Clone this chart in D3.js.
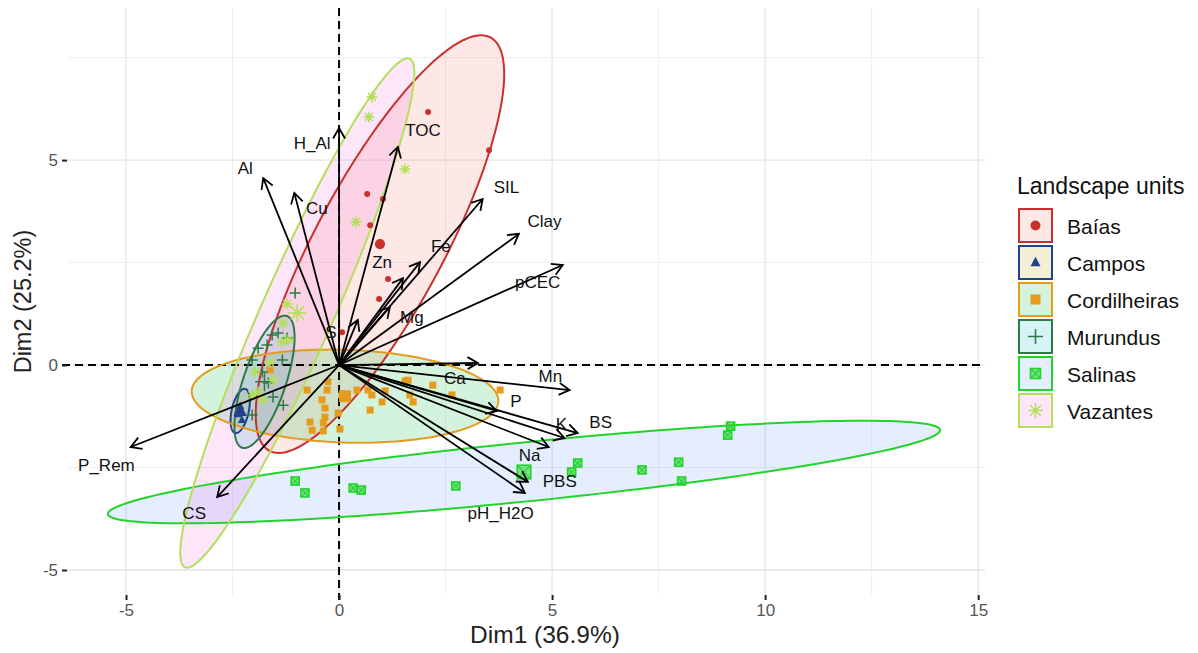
<!DOCTYPE html>
<html><head><meta charset="utf-8">
<script src="https://cdn.jsdelivr.net/npm/d3@7"></script>
<style>body{margin:0;background:#fff}svg{display:block;font-family:"Liberation Sans",Arial,sans-serif}</style>
</head><body><svg id="c" width="1198" height="653"></svg>
<script>
// ---------- DATA ----------
const groups = ["Baías","Campos","Cordilheiras","Murundus","Salinas","Vazantes"];
const strokeColors = ["#c9302c","#233f8f","#e59c1c","#2e7a45","#22d42a","#b3df5a"];
const fillColors = ["#F8766D","#B79F00","#00BA38","#00BFC4","#619CFF","#F564E3"];
const shapes = ["circle","triangle","square","plus","boxtimes","asterisk"];

// individual points per group [x, y]
const ptsBaias = [[2.09,6.17],[3.52,5.24],[0.66,4.17],[1.03,4.05],[0.73,3.41],[1.15,2.10],[0.94,1.61],[0.07,0.80]];
const ptsCampos = [[-2.32,-1.00],[-2.37,-1.20],[-2.28,-1.34]];
const ptsCordilheiras = [[-0.26,-0.41],[-0.75,-0.61],[-0.28,-0.61],[-0.40,-0.85],[0.07,-0.73],[0.42,-0.61],[0.68,-0.61],[0.77,-0.73],[1.08,-0.63],[1.01,-0.90],[0.73,-1.10],[-0.33,-1.05],[-0.33,-1.27],[-0.68,-1.39],[-0.37,-1.41],[-0.02,-1.17],[0.02,-1.56],[1.62,-0.37],[1.55,-0.39],[2.20,-0.49],[1.66,-0.73],[1.74,-0.90],[2.65,-0.73],[3.78,-0.61],[-1.62,-0.12],[-0.63,-1.59],[-0.37,-1.61]];
const ptsMurundus = [[-1.03,1.76],[-1.43,0.78],[-1.57,0.73],[-1.22,0.66],[-1.90,0.41],[-2.04,0.12],[-1.33,0.12],[-1.80,-0.17],[-1.66,-0.44],[-1.55,-0.78],[-1.31,-0.98],[-2.04,-1.22],[-1.69,0.49]];
const ptsSalinas = [[-1.03,-2.83],[-0.80,-3.12],[0.33,-3.00],[0.52,-3.05],[2.74,-2.95],[5.46,-2.61],[5.60,-2.39],[7.11,-2.56],[7.97,-2.37],[8.04,-2.83],[9.12,-1.71],[9.19,-1.49]];
const ptsVazantes = [[0.77,6.54],[0.70,6.05],[1.55,4.78],[0.40,3.49],[-1.22,1.49],[-1.31,1.02],[-1.34,0.56],[-1.20,0.61],[-1.62,0.07],[-1.55,-0.37],[-1.90,-0.66],[-1.78,-0.85],[-2.04,-0.73],[-1.97,-0.17]];
const groupPoints = [ptsBaias, ptsCampos, ptsCordilheiras, ptsMurundus, ptsSalinas, ptsVazantes];

// group means [x, y]
const groupMeans = [[0.96,2.95],[-2.32,-1.12],[0.14,-0.76],[-1.75,-0.41],[4.34,-2.61],[-0.98,1.27]];
// ellipses: semi-major, semi-minor (data units), angle (deg)
const ellMajor = [5.67,0.55,3.6,1.69,9.82,6.74];
const ellMinor = [1.52,0.2,1.13,0.5,0.72,0.85];
const ellAngle = [62.9,78,-2,72,6,67];

// variable arrows
const varNames = ["H_Al","Al","Cu","TOC","SIL","Clay","pCEC","Fe","Zn","Mg","S","Ca","Mn","P","BS","K","Na","PBS","pH_H2O","P_Rem","CS"];
const varX = [0.00,-1.78,-1.05,1.38,3.37,4.22,5.25,1.90,1.50,1.19,0.44,3.26,5.41,3.70,5.60,5.29,4.92,4.43,4.36,-4.89,-2.86];
const varY = [5.78,4.56,4.20,5.32,4.05,3.20,2.44,2.51,2.12,1.41,1.10,0.05,-0.61,-1.12,-1.66,-1.78,-2.00,-2.85,-3.12,-2.00,-3.22];
const labX = [-0.63,-2.20,-0.52,1.97,3.93,4.82,4.66,2.39,1.01,1.71,-0.19,2.72,4.96,4.15,6.14,5.22,4.47,5.18,3.79,-5.46,-3.40];
const labY = [5.41,4.80,3.83,5.71,4.34,3.51,2.02,2.88,2.51,1.15,0.80,-0.32,-0.27,-0.88,-1.39,-1.44,-2.20,-2.85,-3.63,-2.44,-3.61];

const xTicks = [-5,0,5,10,15];
const yTicks = [-5,0,5];
const xMinor = [-2.5,2.5,7.5,12.5];
const yMinor = [-2.5,2.5,7.5];
const xTitle = "Dim1 (36.9%)";
const yTitle = "Dim2 (25.2%)";
const legendTitle = "Landscape units";

// ---------- DRAW ----------
const svg = d3.select("#c");
const P = {l:67, r:985, t:8, b:595};
const x = d3.scaleLinear().domain([-6.385, 15.16]).range([P.l, P.r]);
const y = d3.scaleLinear().domain([-5.61, 8.71]).range([P.b, P.t]);

const g = svg.append("g");
// grid
xMinor.forEach(v=>g.append("line").attr("x1",x(v)).attr("x2",x(v)).attr("y1",P.t).attr("y2",P.b).attr("stroke","#efefef").attr("stroke-width",1));
yMinor.forEach(v=>g.append("line").attr("y1",y(v)).attr("y2",y(v)).attr("x1",P.l).attr("x2",P.r).attr("stroke","#efefef").attr("stroke-width",1));
xTicks.forEach(v=>g.append("line").attr("x1",x(v)).attr("x2",x(v)).attr("y1",P.t).attr("y2",P.b).attr("stroke","#e4e4e4").attr("stroke-width",1.3));
yTicks.forEach(v=>g.append("line").attr("y1",y(v)).attr("y2",y(v)).attr("x1",P.l).attr("x2",P.r).attr("stroke","#e4e4e4").attr("stroke-width",1.3));

// axes
const xAxis = d3.axisBottom(x).tickValues(xTicks).tickSize(5).tickPadding(4).tickFormat(d3.format("d"));
const yAxis = d3.axisLeft(y).tickValues(yTicks).tickSize(5).tickPadding(4).tickFormat(d3.format("d"));
const xa = svg.append("g").attr("transform",`translate(0,${P.b})`).call(xAxis);
const ya = svg.append("g").attr("transform",`translate(${P.l},0)`).call(yAxis);
[xa,ya].forEach(a=>{a.select(".domain").remove();a.selectAll(".tick line").attr("stroke","#222").attr("stroke-width",2);
  a.selectAll("text").attr("fill","#555").style("font-size","17px").style("font-family","'Liberation Sans',Arial,sans-serif");});
xa.selectAll("text").text(d=>d<0?"-"+Math.abs(d):d);
ya.selectAll("text").text(d=>d<0?"-"+Math.abs(d):d);

// ellipses
const lineGen = d3.line().x(d=>x(d[0])).y(d=>y(d[1])).curve(d3.curveLinearClosed);
function ellipsePts(i){
  const c=groupMeans[i], a=ellMajor[i], b=ellMinor[i], ph=ellAngle[i]*Math.PI/180;
  return d3.range(0,360,2).map(t=>{t=t*Math.PI/180;
    return [c[0]+a*Math.cos(t)*Math.cos(ph)-b*Math.sin(t)*Math.sin(ph), c[1]+a*Math.cos(t)*Math.sin(ph)+b*Math.sin(t)*Math.cos(ph)];});
}
groups.forEach((gr,i)=>{
  g.append("path").attr("d",lineGen(ellipsePts(i))).attr("fill",fillColors[i]).attr("fill-opacity",0.17).attr("stroke","none");
});
// dashed lines
g.append("line").attr("x1",x(0)).attr("x2",x(0)).attr("y1",P.t).attr("y2",P.b+5).attr("stroke","#000").attr("stroke-width",2).attr("stroke-dasharray","8,5");
g.append("line").attr("x1",P.l-5).attr("x2",P.r).attr("y1",y(0)).attr("y2",y(0)).attr("stroke","#000").attr("stroke-width",2).attr("stroke-dasharray","8,5");
groups.forEach((gr,i)=>{
  g.append("path").attr("d",lineGen(ellipsePts(i))).attr("fill","none").attr("stroke",strokeColors[i]).attr("stroke-width",2);
});

function drawShape(sel, shape, cx, cy, s, col){
  const h=s/2;
  if(shape==="circle") sel.append("circle").attr("cx",cx).attr("cy",cy).attr("r",h).attr("fill",col);
  else if(shape==="square") sel.append("rect").attr("x",cx-h).attr("y",cy-h).attr("width",s).attr("height",s).attr("fill",col);
  else if(shape==="triangle") sel.append("path").attr("d",`M${cx},${cy-h*1.15}L${cx+h},${cy+h*0.75}L${cx-h},${cy+h*0.75}Z`).attr("fill",col);
  else if(shape==="plus") sel.append("path").attr("d",`M${cx-h},${cy}H${cx+h}M${cx},${cy-h}V${cy+h}`).attr("stroke",col).attr("stroke-width",1.5).attr("fill","none");
  else if(shape==="boxtimes"){ sel.append("rect").attr("x",cx-h).attr("y",cy-h).attr("width",s).attr("height",s).attr("fill",col).attr("fill-opacity",0.55).attr("stroke",col).attr("stroke-width",1.6);
    sel.append("path").attr("d",`M${cx-h},${cy-h}L${cx+h},${cy+h}M${cx+h},${cy-h}L${cx-h},${cy+h}`).attr("stroke",col).attr("stroke-width",1.1);}
  else if(shape==="asterisk"){ let d=""; for(let k=0;k<4;k++){const a=k*Math.PI/4; d+=`M${cx-h*Math.cos(a)},${cy-h*Math.sin(a)}L${cx+h*Math.cos(a)},${cy+h*Math.sin(a)}`;}
    sel.append("path").attr("d",d).attr("stroke",col).attr("stroke-width",1.5).attr("fill","none");}
}
const baseSize = [6,8,7,11,8,11];
groups.forEach((gr,i)=>{
  groupPoints[i].forEach(p=>drawShape(g, shapes[i], x(p[0]), y(p[1]), baseSize[i], strokeColors[i]));
  drawShape(g, shapes[i], x(groupMeans[i][0]), y(groupMeans[i][1]), baseSize[i]*1.7, strokeColors[i]);
});

// arrows
varNames.forEach((n,i)=>{
  const x0=x(0), y0=y(0), x1=x(varX[i]), y1=y(varY[i]);
  const ang=Math.atan2(y1-y0,x1-x0), L=12, A=Math.PI/6;
  g.append("line").attr("x1",x0).attr("y1",y0).attr("x2",x1).attr("y2",y1).attr("stroke","#000").attr("stroke-width",1.8);
  g.append("path").attr("d",`M${x1-L*Math.cos(ang-A)},${y1-L*Math.sin(ang-A)}L${x1},${y1}L${x1-L*Math.cos(ang+A)},${y1-L*Math.sin(ang+A)}`)
    .attr("fill","none").attr("stroke","#000").attr("stroke-width",1.8).attr("stroke-linejoin","miter");
  g.append("text").attr("x",x(labX[i])).attr("y",y(labY[i])).attr("text-anchor","middle").attr("dominant-baseline","central")
    .attr("fill","#111").style("font-size","17px").text(n);
});

// axis titles
svg.append("text").attr("x",545).attr("y",643).attr("text-anchor","middle").style("font-size","24.5px").attr("fill","#222").text(xTitle);
svg.append("text").attr("transform",`translate(31,${(P.t+P.b)/2}) rotate(-90)`).attr("text-anchor","middle").style("font-size","23.5px").attr("fill","#222").text(yTitle);

// legend
const lg = svg.append("g");
lg.append("text").attr("x",1017).attr("y",194).style("font-size","23px").attr("fill","#111").text(legendTitle);
groups.forEach((gr,i)=>{
  const ky=208+i*37;
  lg.append("rect").attr("x",1018).attr("y",ky).attr("width",35).attr("height",35).attr("fill","#fff");
  lg.append("rect").attr("x",1019).attr("y",ky+1).attr("width",33).attr("height",33).attr("fill",fillColors[i]).attr("fill-opacity",0.17).attr("stroke",strokeColors[i]).attr("stroke-width",2);
  drawShape(lg, shapes[i], 1035.5, ky+17.5, i===3||i===5?15:10, strokeColors[i]);
  lg.append("text").attr("x",1067).attr("y",ky+18).attr("dominant-baseline","central").style("font-size","21px").attr("fill","#111").text(gr);
});
</script></body></html>
